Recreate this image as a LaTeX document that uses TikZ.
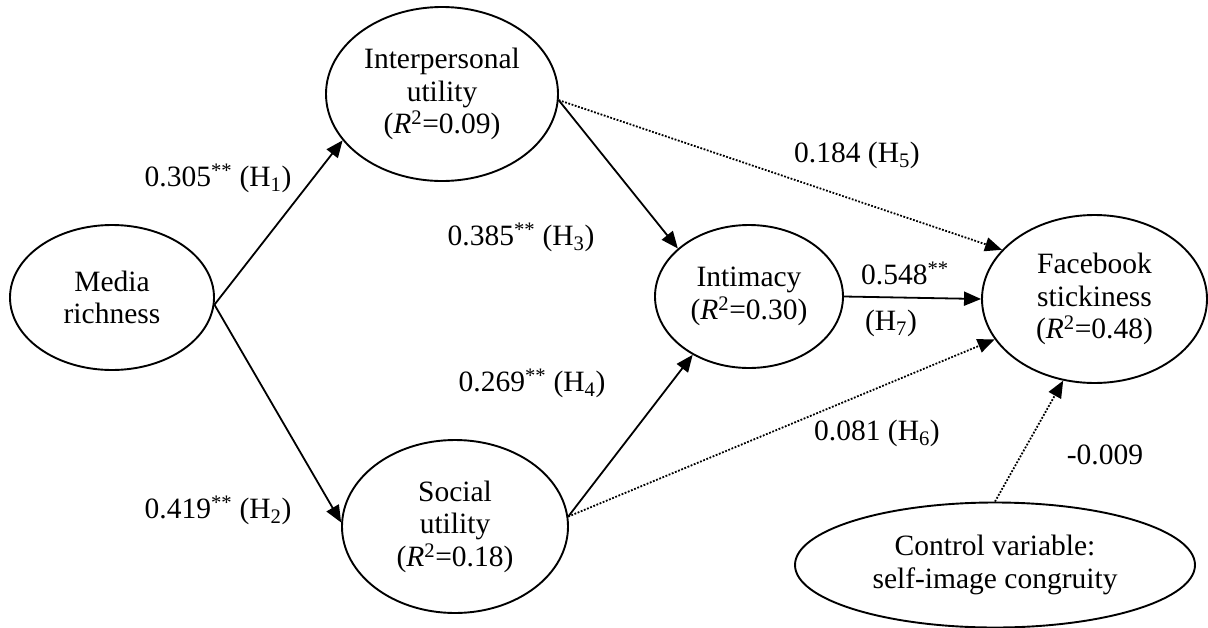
\documentclass[tikz,border=0pt]{standalone}
\usepackage{fontspec}
\setmainfont{Liberation Serif}
\usetikzlibrary{shapes.geometric,arrows.meta}
\begin{document}
\begin{tikzpicture}[x=1pt,y=-1pt,
  every node/.style={font=\fontsize{29.5}{32.5}\selectfont},
  latent/.style={ellipse,draw,line width=1.9pt,inner sep=0pt,align=center},
  path/.style={line width=1.8pt,-{Triangle[length=17pt,width=14pt]}},
  weak/.style={path,dash pattern=on 1.8pt off 1.6pt},
  lbl/.style={inner sep=0pt,anchor=center}]
\useasboundingbox (0,0) rectangle (1208,627);
\node[latent,minimum width=204pt,minimum height=145pt] (mr) at (112,297.5) {Media\\richness};
\node[latent,minimum width=232pt,minimum height=174pt] (iu) at (442,94) {Interpersonal\\utility\\(\textit{R}\textsuperscript{2}=0.09)};
\node[latent,minimum width=226pt,minimum height=173pt] (su) at (455,526.5) {Social\\utility\\(\textit{R}\textsuperscript{2}=0.18)};
\node[latent,minimum width=188pt,minimum height=143pt] (in) at (749,296.5) {Intimacy\\(\textit{R}\textsuperscript{2}=0.30)};
\node[latent,minimum width=225pt,minimum height=168pt] (fb) at (1094.5,299) {Facebook\\stickiness\\(\textit{R}\textsuperscript{2}=0.48)};
\node[latent,minimum width=400pt,minimum height=125pt] (ct) at (995,565) {Control variable:\\self-image congruity};
\draw[path] (mr.-4) -- (iu.205);
\draw[path] (mr.-4) -- (su.178);
\draw[path] (iu.-3) -- (in.146);
\draw[path] (su.5) -- (in.226);
\draw[path] (in.east) -- (fb.west);
\draw[weak] (iu.-3) -- (fb.152);
\draw[weak] (su.5) -- (fb.202);
\draw[weak] (ct.north) -- (fb.249);
\node[lbl] (l1) at (218,178) {0.305\textsuperscript{**} (H\textsubscript{1})};
\node[lbl] (l2) at (218,510) {0.419\textsuperscript{**} (H\textsubscript{2})};
\node[lbl] (l3) at (521,237) {0.385\textsuperscript{**} (H\textsubscript{3})};
\node[lbl] (l4) at (532,383) {0.269\textsuperscript{**} (H\textsubscript{4})};
\node[lbl] (l5) at (857,155) {0.184 (H\textsubscript{5})};
\node[lbl] (l7a) at (905,273) {0.548\textsuperscript{**}};
\node[lbl] (l7b) at (891,323) {(H\textsubscript{7})};
\node[lbl] (l6) at (877,433) {0.081 (H\textsubscript{6})};
\node[lbl] (l8) at (1105,455) {-0.009};
\end{tikzpicture}
\end{document}
